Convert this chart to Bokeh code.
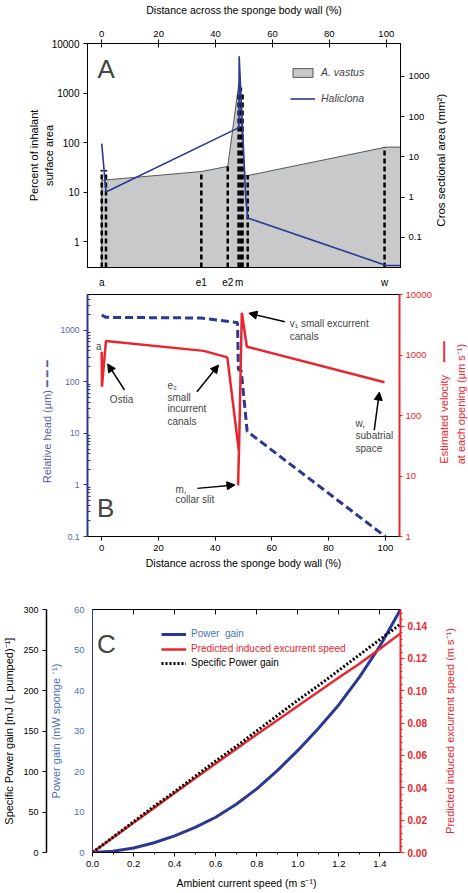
import math
from bokeh.plotting import figure
from bokeh.models import (Range1d, LogScale, LogAxis, LinearAxis, FixedTicker,
                          SingleIntervalTicker, CustomJSTickFormatter, NumeralTickFormatter,
                          Legend, LegendItem, Label, Arrow, NormalHead)
from bokeh.layouts import column, row
from bokeh.core.properties import value
from bokeh.embed import file_html
from bokeh.resources import INLINE

FONT = "Liberation Sans"
NAVY = "#2b3990"
RED = "#e8262d"
GREY = "#c8c9cb"
SLATE = "#5a5fa8"
STEEL = "#4a72b8"

# ---------------- Panel A data ----------------
a_dist = [0, 1.5, 35, 44.3, 48.2, 50.3, 100, 105]
a_vastus = [17.2, 17.6, 26, 33, 1600, 21, 81, 81]
hal_dist = [0, 1.5, 48.2, 48.3, 50.6, 51.3, 100, 105]
hal_area = [95, 10, 200, 5500, 8, 3, 0.33, 0.33]
wall_pos = [0, 1.5, 35, 44.3, 48.1, 48.9, 49.5, 51.3, 99.4]
wall_top = [28, 28, 26, 33, 1000, 1300, 1000, 22, 81]
zone_ticks = [0, 35, 44.3, 48.3, 99.4]
zone_labels = ["a", "e1", "e2", "m", "w"]
dist_ticks = [0, 20, 40, 60, 80, 100]

# ---------------- Panel B data ----------------
head_dist = [0, 1.5, 35, 37, 47.9, 48.2, 49.2, 51.3, 100]
head_um = [2000, 1800, 1750, 1700, 1420, 175, 165, 11, 0.1]
vel_dist = [0, 0.1, 1.5, 36, 44.3, 48.4, 48.1, 48.5, 49.4, 51.2, 99.7]
vel_ums = [1130, 300, 1700, 1170, 915, 25, 7, 40, 5000, 1370, 355]

# ---------------- Panel C data ----------------
ambient = [0.0, 0.1, 0.2, 0.3, 0.4, 0.5, 0.6, 0.7, 0.8, 0.9, 1.0, 1.1, 1.2, 1.3, 1.4, 1.5]
power_gain = [0, 0.3, 1.1, 2.4, 4.1, 6.2, 8.7, 11.9, 15.7, 20.2, 25.2, 30.6, 36.5, 43.3, 51.0, 60.0]
exc_speed = [0, 0.0092, 0.0184, 0.0276, 0.0368, 0.0459, 0.055, 0.064, 0.073, 0.0818,
             0.0906, 0.0994, 0.1082, 0.1168, 0.126, 0.1355]
spec_gain = [0, 19, 38, 57, 75, 94, 113, 131, 150, 169, 188, 206, 225, 244, 263, 282]

logfmt = CustomJSTickFormatter(code="return String(tick);")


def style_axis(ax, color="black", label_color=None, size="9.5px", title_size="10.5px"):
    lc = label_color or color
    ax.axis_line_color = color
    ax.major_tick_line_color = color
    ax.minor_tick_line_color = color
    ax.major_label_text_color = lc
    ax.axis_label_text_color = lc
    ax.major_label_text_font = FONT
    ax.axis_label_text_font = FONT
    ax.major_label_text_font_size = size
    ax.axis_label_text_font_size = title_size
    ax.axis_label_text_font_style = "normal"
    ax.major_tick_in = 0
    ax.major_tick_out = 4
    ax.minor_tick_in = 0
    ax.minor_tick_out = 0
    ax.major_label_standoff = 4
    ax.axis_label_standoff = 5


def base_fig(**kw):
    p = figure(output_backend="svg", toolbar_location=None, x_axis_location=None,
               y_axis_location=None, **kw)
    p.grid.visible = False
    p.outline_line_color = "black"
    p.outline_line_width = 1
    p.background_fill_color = "white"
    p.border_fill_color = "white"
    return p


def side_fig(width, height, titles):
    """Narrow strip right of a panel holding right-hand axis title text, centred
    horizontally in the strip and written bottom-to-top."""
    s = figure(width=width, height=height, x_range=Range1d(0, 1), y_range=Range1d(0, 1),
               output_backend="svg", toolbar_location=None, x_axis_location=None,
               y_axis_location=None, min_border=0, min_border_left=0, min_border_right=0,
               min_border_top=0, min_border_bottom=0)
    s.grid.visible = False
    s.outline_line_color = None
    s.background_fill_color = "white"
    s.border_fill_color = "white"
    for fy, txt, col, size in titles:
        s.text(x=[0.5], y=[fy], text=[txt], angle=math.pi / 2, text_align="center",
               text_baseline="middle", text_color=col, text_font=value(FONT),
               text_font_size=size)
    return s

# ======================= Panel A =======================
pA = base_fig(width=433, height=290, x_range=Range1d(-5, 105), y_range=Range1d(0.3, 10000),
              y_axis_type="log",
              extra_y_ranges={"cs": Range1d(0.0177, 6580)}, extra_y_scales={"cs": LogScale()},
              min_border_left=87, min_border_right=33, min_border_top=42, min_border_bottom=22)

baseA = pA.y_range.start
patch_x = [a_dist[0]] + a_dist + [a_dist[-1]]
patch_y = [baseA] + a_vastus + [baseA]
r_vastus = pA.patch(patch_x, patch_y, fill_color=GREY, line_color="#333333", line_width=0.8)
pA.segment(x0=wall_pos, y0=[baseA] * len(wall_pos), x1=wall_pos, y1=wall_top,
           line_color="black", line_width=2.5, line_dash="5 3")
r_hal = pA.line(hal_dist, hal_area, line_color=NAVY, line_width=1.6)

leftA = LogAxis(ticker=FixedTicker(ticks=[1, 10, 100, 1000, 10000], minor_ticks=[]),
                formatter=logfmt, axis_label="Percent of inhalant\nsurface area")
style_axis(leftA, size="10px", title_size="11px")
leftA.axis_label_standoff = -6
pA.add_layout(leftA, "left")

rightA = LogAxis(y_range_name="cs", ticker=FixedTicker(ticks=[0.1, 1, 10, 100, 1000], minor_ticks=[]),
                 formatter=logfmt)
style_axis(rightA, size="9.5px")
pA.add_layout(rightA, "right")

topA = LinearAxis(ticker=FixedTicker(ticks=dist_ticks, minor_ticks=[]),
                  axis_label="Distance across the sponge body wall (%)")
style_axis(topA, size="9.5px", title_size="10.5px")
topA.major_tick_in = 4
topA.major_label_standoff = 3
topA.axis_label_standoff = 12
pA.add_layout(topA, "above")

botA = LinearAxis(ticker=FixedTicker(ticks=zone_ticks, minor_ticks=[]),
                  formatter=CustomJSTickFormatter(args=dict(t=zone_ticks, l=zone_labels),
                                                  code="const i = t.indexOf(tick); return i >= 0 ? l[i] : '';"))
style_axis(botA, size="10px")
botA.major_tick_out = 0
botA.major_label_standoff = 9
pA.add_layout(botA, "below")

legA = Legend(items=[LegendItem(label="A. vastus", renderers=[r_vastus]),
                     LegendItem(label="Haliclona", renderers=[r_hal])],
              location=(203, 163), border_line_color=None, background_fill_alpha=0,
              padding=0, margin=0, glyph_width=25, glyph_height=11, label_height=11,
              spacing=14, label_standoff=6, label_text_font=FONT,
              label_text_font_size="10.5px", label_text_font_style="italic")
pA.add_layout(legA)
pA.add_layout(Label(x=1.6, y=3000, text="A", text_font=FONT, text_font_size="26px",
                    text_align="center", text_baseline="middle"))

sA = side_fig(14, 290, [(0.479, "Cros sectional area (mm²)", "black", "11.5px")])

# ======================= Panel B =======================
pB = base_fig(width=434, height=285, x_range=Range1d(-5, 105), y_range=Range1d(0.1, 5000),
              y_axis_type="log",
              extra_y_ranges={"vel": Range1d(1, 10000)}, extra_y_scales={"vel": LogScale()},
              min_border_left=87, min_border_right=34, min_border_top=4, min_border_bottom=39)

pB.line(head_dist, head_um, line_color=NAVY, line_width=3, line_dash="8 4")
pB.line(vel_dist, vel_ums, y_range_name="vel", line_color=RED, line_width=2.5)

minorB = [m * 10 ** e for e in range(-1, 4) for m in range(2, 10) if m * 10 ** e < 5000]
leftB = LogAxis(ticker=FixedTicker(ticks=[0.1, 1, 10, 100, 1000], minor_ticks=minorB),
                formatter=logfmt, axis_label="Relative head (μm)     ━ ━ ━")
style_axis(leftB, color=NAVY, label_color=SLATE, size="8.5px", title_size="11px")
leftB.axis_line_width = 2
leftB.minor_tick_in = 3
pB.add_layout(leftB, "left")

rightB = LogAxis(y_range_name="vel", ticker=FixedTicker(ticks=[1, 10, 100, 1000, 10000], minor_ticks=[]),
                 formatter=logfmt)
style_axis(rightB, color=RED, size="9.5px")
rightB.axis_line_width = 2
rightB.major_tick_out = 3
rightB.major_label_standoff = 3
pB.add_layout(rightB, "right")

sB1 = side_fig(18, 285, [(0.484, "Estimated velocity", RED, "11px"),
                         (0.765, "━━━", RED, "11px")])
sB2 = side_fig(16, 285, [(0.547, "at each opening (μm s⁻¹)", RED, "11px")])

botB = LinearAxis(ticker=FixedTicker(ticks=dist_ticks, minor_ticks=[]),
                  axis_label="Distance across the sponge body wall (%)")
style_axis(botB, size="9.5px", title_size="10.5px")
botB.axis_label_standoff = 3
pB.add_layout(botB, "below")

ann = dict(text_font=FONT, text_font_size="10px", text_baseline="middle")
for x, y, t, al in [(-1.05, 480, "a", "center"), (7.0, 45, "Ostia", "center"),
                    (23.2, 84, "e₂", "left"), (23.2, 51, "small", "left"),
                    (23.2, 30, "incurrent", "left"), (23.2, 16.8, "canals", "left"),
                    (66.3, 1350, "v₁ small excurrent", "left"), (66.3, 764, "canals", "left"),
                    (89.5, 15.9, "w,", "left"), (89.5, 9.27, "subatrial", "left"),
                    (89.5, 5.17, "space", "left"),
                    (26.0, 0.82, "m,", "left"), (26.0, 0.52, "collar slit", "left")]:
    pB.add_layout(Label(x=x, y=y, text=t, text_align=al, **ann))
for xs, ys, xe, ye in [(8.07, 70, 2.1, 224), (33.6, 64.7, 41.2, 214), (64.6, 1477, 51.9, 2163),
                       (96.1, 11.6, 97.9, 63.8), (33.7, 0.86, 47.0, 1.0)]:
    pB.add_layout(Arrow(end=NormalHead(size=8, fill_color="black", line_color="black"),
                        x_start=xs, y_start=ys, x_end=xe, y_end=ye,
                        line_color="black", line_width=1.5))
pB.add_layout(Label(x=1.4, y=0.35, text="B", text_font=FONT, text_font_size="26px",
                    text_align="center", text_baseline="middle"))

# ======================= Panel C =======================
pC = base_fig(width=430, height=318, x_range=Range1d(0, 1.5), y_range=Range1d(0, 60),
              extra_y_ranges={"spec": Range1d(0, 300), "exc": Range1d(0, 0.1503)},
              min_border_left=91, min_border_right=30, min_border_top=34, min_border_bottom=41)

r_pow = pC.line(ambient, power_gain, line_color=NAVY, line_width=3)
r_exc = pC.line(ambient, exc_speed, y_range_name="exc", line_color=RED, line_width=2.5)
r_spec = pC.line(ambient, spec_gain, y_range_name="spec", line_color="black", line_width=3,
                 line_dash="2 2")

blueC = LinearAxis(ticker=SingleIntervalTicker(interval=10, num_minor_ticks=0),
                   axis_label="Power gain (mW sponge ⁻¹)")
style_axis(blueC, color=NAVY, label_color=STEEL, size="9.5px", title_size="11px")
blueC.major_tick_out = 0
blueC.major_label_standoff = 8
blueC.axis_label_standoff = 9
pC.add_layout(blueC, "left")

blackC = LinearAxis(y_range_name="spec", ticker=SingleIntervalTicker(interval=50, num_minor_ticks=0),
                    axis_label="Specific Power gain [mJ (L pumped)⁻¹]")
style_axis(blackC, size="9px", title_size="11px")
blackC.axis_line_width = 1.5
pC.add_layout(blackC, "left")

redC = LinearAxis(y_range_name="exc", ticker=SingleIntervalTicker(interval=0.02, num_minor_ticks=5),
                  formatter=NumeralTickFormatter(format="0.00"))
style_axis(redC, color=RED, size="10px")
redC.major_label_text_font_style = "bold"
redC.axis_line_width = 2
redC.minor_tick_out = 2
redC.major_label_standoff = 3
pC.add_layout(redC, "right")

sC = side_fig(38, 318, [(0.5, "Predicted induced excurrent speed (m s⁻¹)", RED, "11px")])

botC = LinearAxis(ticker=SingleIntervalTicker(interval=0.2, num_minor_ticks=2),
                  formatter=NumeralTickFormatter(format="0.0"),
                  axis_label="Ambient current speed (m s⁻¹)")
style_axis(botC, size="9.5px", title_size="10.5px")
botC.minor_tick_out = 2
botC.axis_label_standoff = 7
pC.add_layout(botC, "below")

topC = LinearAxis(ticker=SingleIntervalTicker(interval=0.2, num_minor_ticks=0),
                  formatter=CustomJSTickFormatter(code="return '';"))
style_axis(topC)
topC.major_tick_out = 0
topC.major_tick_in = 5
pC.add_layout(topC, "above")

for (r, lab, col, ly) in [(r_pow, "Power  gain", STEEL, 213),
                          (r_exc, "Predicted induced excurrent speed", RED, 198),
                          (r_spec, "Specific Power gain", "black", 184)]:
    lg = Legend(items=[LegendItem(label=lab, renderers=[r])], location=(69, ly),
                border_line_color=None, background_fill_alpha=0, padding=0, margin=0,
                glyph_width=25, glyph_height=10, label_height=10, label_standoff=5,
                label_text_font=FONT, label_text_font_size="10px", label_text_color=col)
    pC.add_layout(lg)

pC.add_layout(Label(x=0.068, y=51.4, text="C", text_font=FONT, text_font_size="26px",
                    text_align="center", text_baseline="middle"))

layout = column(row(pA, sA, spacing=0), row(pB, sB1, sB2, spacing=0), row(pC, sC, spacing=0),
                spacing=0)
open("out.html", "w").write(file_html(layout, INLINE))
